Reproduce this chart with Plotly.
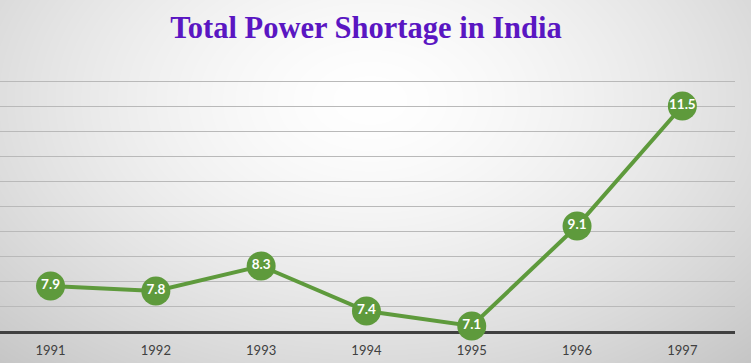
import base64, struct, zlib
import numpy as np
import plotly.graph_objects as go

# ---- data ----
years = ["1991", "1992", "1993", "1994", "1995", "1996", "1997"]
shortage = [7.9, 7.8, 8.3, 7.4, 7.1, 9.1, 11.5]
labels = ["7.9", "7.8", "8.3", "7.4", "7.1", "9.1", "11.5"]
title_text = "Total Power Shortage in India"

# ---- background gradient image ----
W, H = 751, 363
yy, xx = np.mgrid[0:H, 0:W].astype(float)
r = np.sqrt(((xx - 370) / 500) ** 2 + ((yy - 100) / 330) ** 2)
v = 255 - 50 * np.clip(r, 0, 1.3) ** 1.5
v = np.clip(v, 0, 255).astype(np.uint8)
raw = b"".join(b"\x00" + bytes(np.repeat(v[i][:, None], 3, axis=1).ravel()) for i in range(H))

def chunk(tag, data):
    c = struct.pack(">I", len(data)) + tag + data
    return c + struct.pack(">I", zlib.crc32(tag + data) & 0xffffffff)

png = b"\x89PNG\r\n\x1a\n" + chunk(b"IHDR", struct.pack(">IIBBBBB", W, H, 8, 2, 0, 0, 0)) \
    + chunk(b"IDAT", zlib.compress(raw, 9)) + chunk(b"IEND", b"")
bg = "data:image/png;base64," + base64.b64encode(png).decode()

ML, MR, MT, MB = 0, 16, 76, 32
PW, PH = W - ML - MR, H - MT - MB

green = "#5e9a3c"

fig = go.Figure()
fig.add_trace(go.Scatter(
    x=years, y=shortage, mode="lines+markers+text",
    text=labels, textposition="middle center",
    textfont=dict(family="Lato", size=13.5, color="white", weight="bold"),
    line=dict(color=green, width=4),
    marker=dict(size=29, color=green, line=dict(width=0)),
    cliponaxis=False, hoverinfo="skip",
))

fig.update_layout(
    width=W, height=H,
    margin=dict(l=ML, r=MR, t=MT, b=MB, autoexpand=False),
    paper_bgcolor="white", plot_bgcolor="rgba(0,0,0,0)",
    showlegend=False,
    title=dict(text=title_text, x=366 / W, xref="container", xanchor="center", y=1 - 27 / H, yanchor="middle",
               font=dict(family="Liberation Serif", size=30.5, color="#5a16c2", weight="bold")),
    images=[dict(source=bg, xref="paper", yref="paper", x=-ML / PW, y=1 + MT / PH,
                 sizex=W / PW, sizey=H / PH, sizing="stretch", layer="below",
                 xanchor="left", yanchor="top")],
    xaxis=dict(type="category", range=[-0.48, 6.5], showgrid=False, zeroline=False,
               showline=True, linecolor="#404040", linewidth=2.5, layer="below traces",
               ticks="outside", ticklen=6, tickcolor="rgba(0,0,0,0)", automargin=False,
               tickfont=dict(family="Lato", size=13, color="#404040")),
    yaxis=dict(range=[7, 12.1], tick0=7, dtick=0.5, showgrid=True, gridcolor="#b9b9b9", gridwidth=1.3,
               zeroline=False, showticklabels=False, showline=False, layer="below traces"),
)

fig.write_html("out.html", config={"displayModeBar": False},
               post_script="document.body.style.margin='0';")
